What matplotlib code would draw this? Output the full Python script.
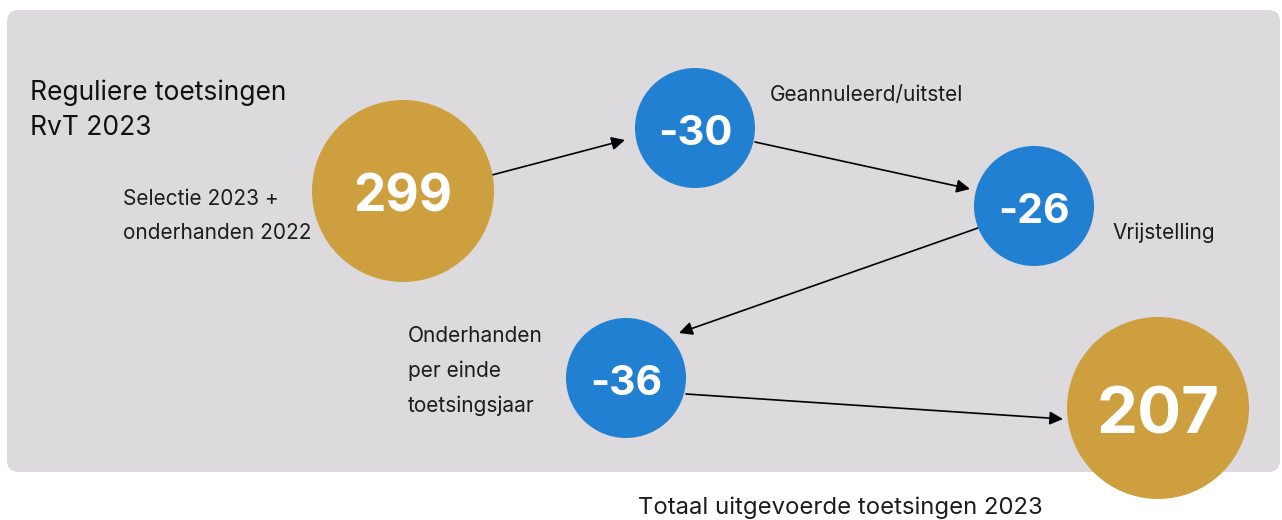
import matplotlib
matplotlib.use("Agg")
import matplotlib.pyplot as plt
from matplotlib.patches import Circle, FancyBboxPatch

plt.rcParams['font.family'] = ['Inter', 'DejaVu Sans']

# Data
values = ["299", "-30", "-26", "-36", "207"]
kinds = ["total", "delta", "delta", "delta", "total"]
step_labels = ["Selectie 2023 +\nonderhanden 2022", "Geannuleerd/uitstel", "Vrijstelling",
               "Onderhanden\nper einde\ntoetsingsjaar", "Totaal uitgevoerde toetsingen 2023"]
title_text = "Reguliere toetsingen\nRvT 2023"

# Layout (pixel coords, y downward)
centers = [(403, 191), (695, 128), (1034, 206), (626, 378), (1158, 408)]
radii = [91, 60, 60, 60, 91]
num_sizes = [37, 30, 29.5, 29.5, 47]
num_offset = 2
label_pos = [(123, 216, 'left'), (770, 95, 'left'), (1112, 233, 'left'),
             (408, 371, 'left'), (638, 508, 'left')]
arrows = [((492, 175), (625, 140)), ((755, 142), (970, 189)),
          ((978, 228), (679, 333)), ((686, 394), (1063, 419))]

colors = {"total": "#CD9F3E", "delta": "#2180D2"}
bg = "#DCDADD"

fig = plt.figure(figsize=(12.82, 5.2), dpi=100)
ax = fig.add_axes([0, 0, 1, 1])
ax.set_xlim(0, 1282)
ax.set_ylim(520, 0)
ax.axis('off')

box = FancyBboxPatch((7, 10), 1273, 462, boxstyle="round,pad=0,rounding_size=12",
                     facecolor=bg, edgecolor='none', zorder=0)
ax.add_patch(box)

ax.text(30, 110, title_text, fontsize=19, color="#111111", ha='left', va='center',
        linespacing=1.45)

for (s, e) in arrows:
    ax.annotate("", xy=e, xytext=s,
                arrowprops=dict(arrowstyle='-|>', color='black', lw=1.2,
                                mutation_scale=20, shrinkA=0, shrinkB=0),
                zorder=1)

for v, k, c, r, fs in zip(values, kinds, centers, radii, num_sizes):
    ax.add_patch(Circle(c, r, facecolor=colors[k], edgecolor='none', zorder=2))
    ax.text(c[0], c[1] + num_offset, v, fontsize=fs, fontweight='bold', color='white',
            ha='center', va='center_baseline', zorder=3)

for lab, (x, y, ha) in zip(step_labels, label_pos):
    big = lab.startswith("Totaal")
    fs = 17.2 if big else 15
    ax.text(x, y, lab, fontsize=fs, color="#1c1c1c", ha=ha, va='center',
            linespacing=1.2 if big else 1.85, zorder=3)

fig.savefig("out.png", dpi=100, facecolor='white')
